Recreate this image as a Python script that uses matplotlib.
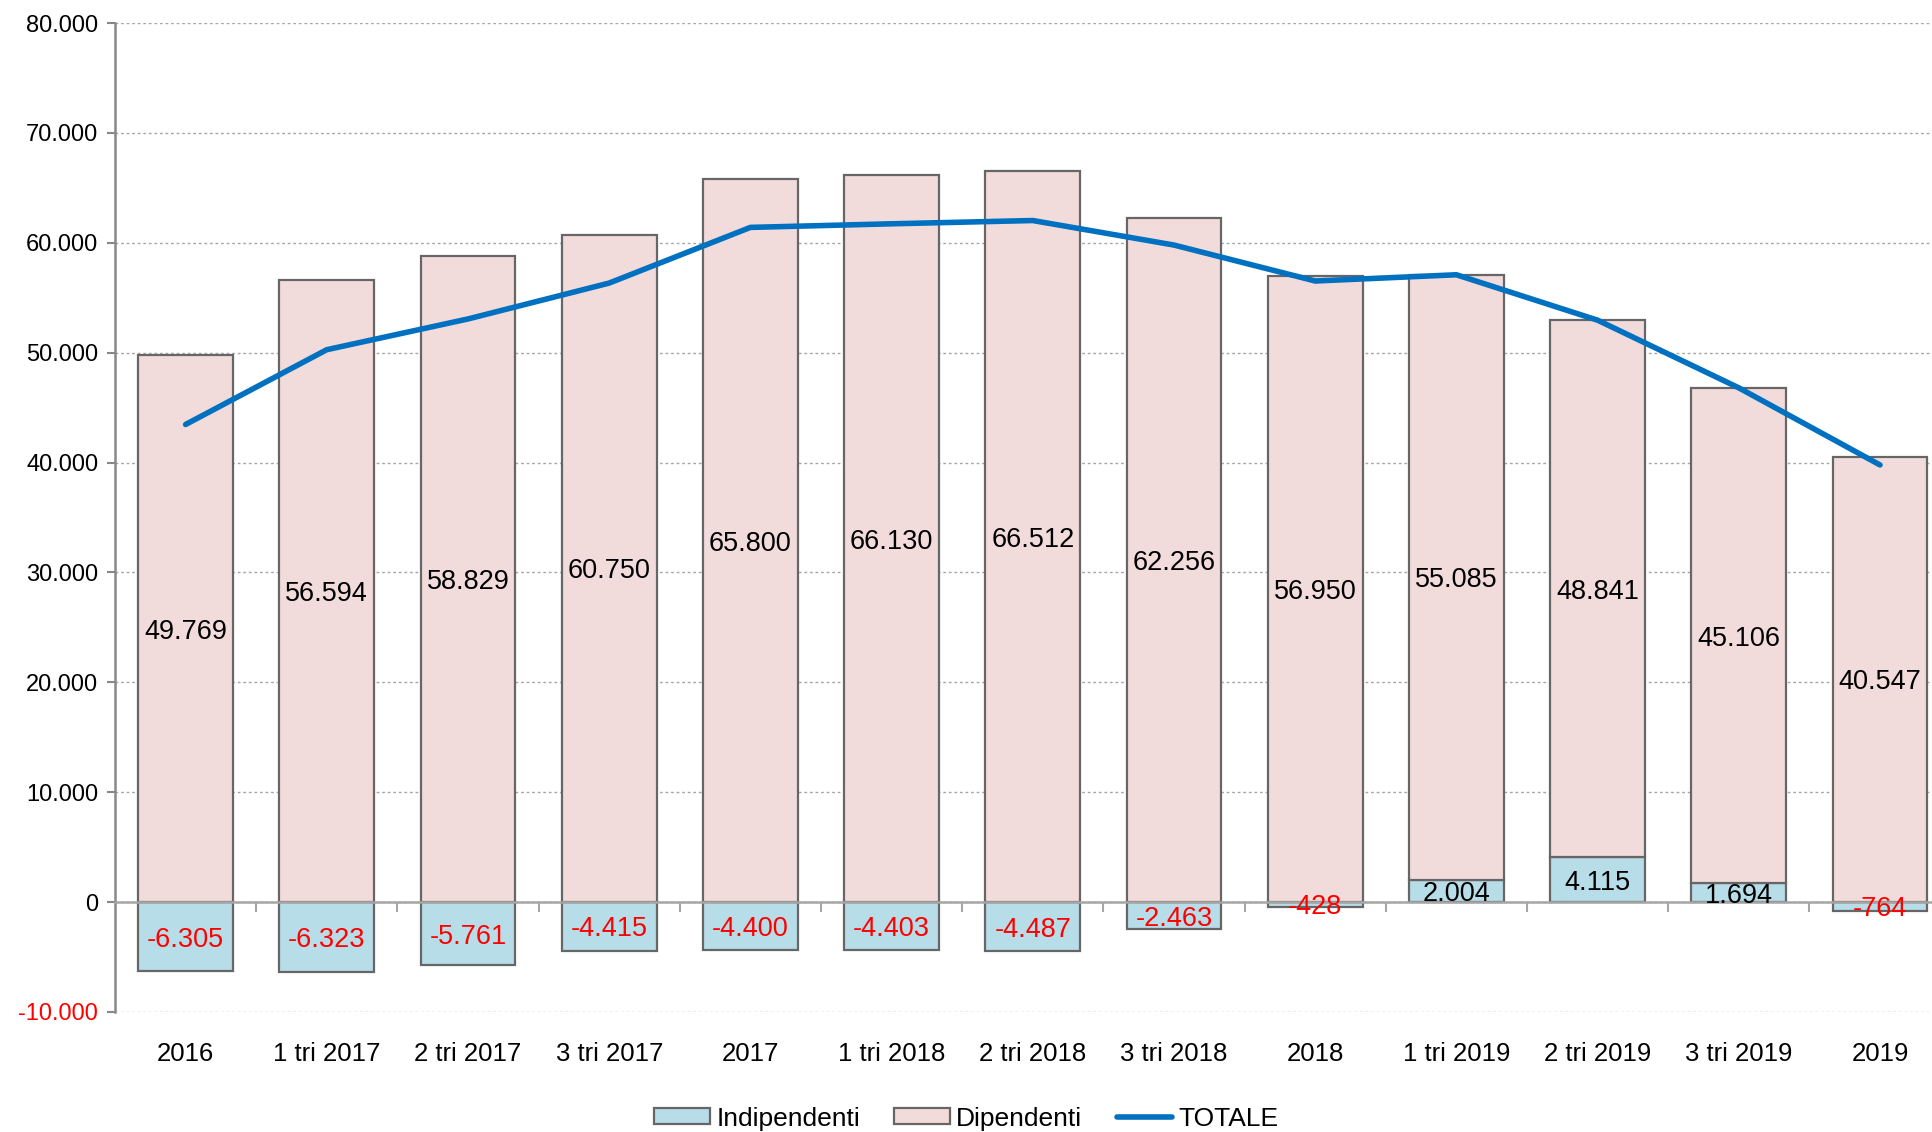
"""
Indipendenti / Dipendenti (barre impilate) e TOTALE (linea), 2016-2019.
"""
import matplotlib
matplotlib.use("Agg")
import matplotlib.pyplot as plt
import numpy as np
from matplotlib.ticker import FuncFormatter

plt.rcParams["font.family"] = ["Liberation Sans", "DejaVu Sans"]

periodi = ["2016", "1 tri 2017", "2 tri 2017", "3 tri 2017", "2017",
           "1 tri 2018", "2 tri 2018", "3 tri 2018", "2018",
           "1 tri 2019", "2 tri 2019", "3 tri 2019", "2019"]
indipendenti = [-6305, -6323, -5761, -4415, -4400, -4403, -4487, -2463,
                -428, 2004, 4115, 1694, -764]
dipendenti = [49769, 56594, 58829, 60750, 65800, 66130, 66512, 62256,
              56950, 55085, 48841, 45106, 40547]
totale = [43464, 50271, 53068, 56335, 61400, 61727, 62025, 59793,
          56522, 57089, 52956, 46800, 39783]
y_ticks = [-10000, 0, 10000, 20000, 30000, 40000, 50000, 60000, 70000, 80000]

C_IND = "#B7DDE8"
C_DIP = "#F2DCDB"
C_EDGE = "#666666"
C_LINE = "#0070C0"
C_NEG = "#FF0000"


def it_num(v):
    # formato italiano: punto come separatore delle migliaia
    return f"{int(round(v)):,}".replace(",", ".")


fig = plt.figure(figsize=(19.33, 11.32), dpi=100)
ax = fig.add_axes([115 / 1933, 1 - 1012 / 1132, 13 * 141.2 / 1933, 989 / 1132])

x = np.arange(len(periodi))
ind = np.array(indipendenti)
dip = np.array(dipendenti)
base = np.maximum(ind, 0)
w = 0.67

b_ind = ax.bar(x, ind, w, color=C_IND, edgecolor=C_EDGE, linewidth=1.6, zorder=2, label="Indipendenti")
b_dip = ax.bar(x, dip, w, bottom=base, color=C_DIP, edgecolor=C_EDGE, linewidth=1.6, zorder=2, label="Dipendenti")
l_tot, = ax.plot(x, totale, color=C_LINE, lw=4, solid_capstyle="round", zorder=4, label="TOTALE")

for xi, iv, dv, b in zip(x, ind, dip, base):
    ax.text(xi, b + dv / 2, it_num(dv), ha="center", va="center_baseline", fontsize=19.5,
            color="black", zorder=5)
    ax.text(xi, iv / 2, it_num(iv), ha="center", va="center_baseline", fontsize=19.5,
            color=C_NEG if iv < 0 else "black", zorder=5)

ax.set_xlim(-0.5, len(periodi) - 0.5)
ax.set_ylim(-10000, 80000)
ax.set_yticks(y_ticks)
ax.yaxis.set_major_formatter(FuncFormatter(lambda v, _: it_num(v)))
ax.tick_params(axis="y", labelsize=17, length=6, width=1.5, color="#888888", pad=6)
for lab, v in zip(ax.get_yticklabels(), y_ticks):
    if v < 0:
        lab.set_color(C_NEG)

ax.grid(axis="y", color="#A6A6A6", linestyle=(0, (2, 2)), linewidth=1, zorder=0)
ax.set_axisbelow(True)

# asse delle categorie sullo zero, etichette in basso
ax.spines["bottom"].set_position(("data", 0))
ax.spines["bottom"].set_color("#A6A6A6")
ax.spines["bottom"].set_linewidth(1.8)
ax.spines["bottom"].set_zorder(3)
ax.spines["left"].set_color("#888888")
ax.spines["left"].set_linewidth(1.8)
ax.spines["top"].set_visible(False)
ax.spines["right"].set_visible(False)
ax.set_xticks(x)
ax.set_xticklabels(periodi)
ax.set_xticks(x[:-1] + 0.5, minor=True)
ax.tick_params(axis="x", which="major", length=0, labelsize=18.5, pad=101)
ax.tick_params(axis="x", which="minor", length=7, width=1.5, color="#A6A6A6")

fig.legend([b_ind, b_dip, l_tot], ["Indipendenti", "Dipendenti", "TOTALE"],
           loc="lower center", bbox_to_anchor=(0.5, -0.008), ncol=3, frameon=False,
           fontsize=19, handlelength=2.1, handleheight=0.55, handletextpad=0.25,
           columnspacing=1.3, borderaxespad=0.0)

fig.savefig("out.png", dpi=100)
